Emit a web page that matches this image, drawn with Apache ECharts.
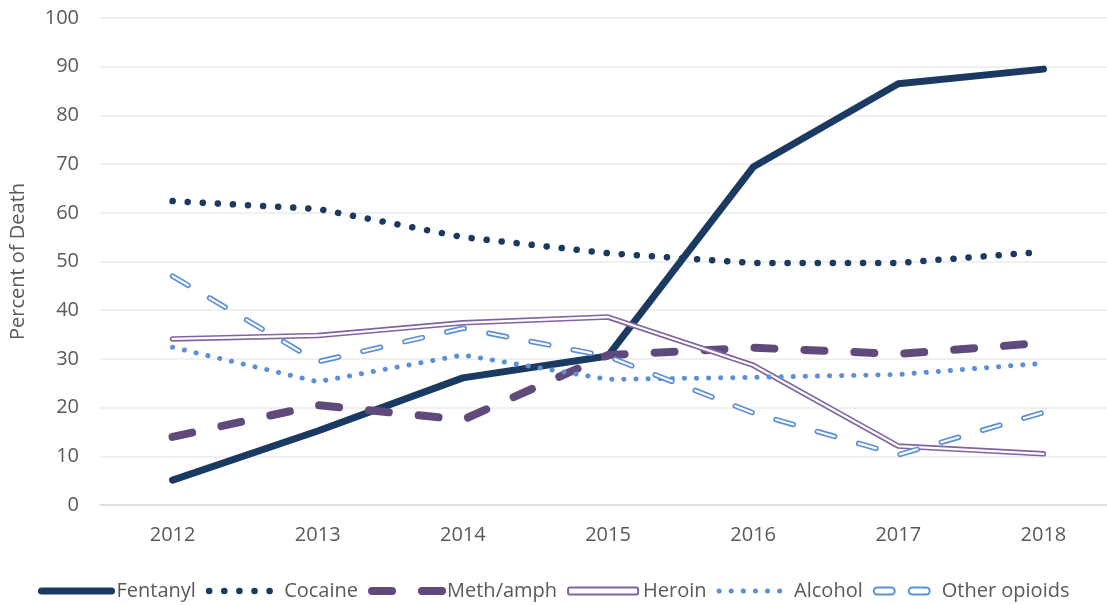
<!DOCTYPE html>
<html>
<head>
<meta charset="utf-8">
<script src="https://cdn.jsdelivr.net/npm/echarts@6/dist/echarts.min.js"></script>
<style>
  html, body { margin: 0; padding: 0; background: #fff; }
  #chart { width: 1107px; height: 605px; }
</style>
</head>
<body>
<div id="chart"></div>
<script>
// categories
var years = ['2012', '2013', '2014', '2015', '2016', '2017', '2018'];
// percent of death per substance
var fentanyl = [5.1, 15.2, 26.1, 30.6, 69.4, 86.5, 89.5];
var cocaine = [62.4, 60.8, 55.0, 51.7, 49.7, 49.7, 52.0];
var methAmph = [14.0, 20.5, 17.5, 30.8, 32.3, 31.0, 33.3];
var heroin = [34.1, 34.8, 37.4, 38.6, 28.7, 12.1, 10.5];
var alcohol = [32.4, 25.3, 30.8, 25.8, 26.2, 26.8, 29.1];
var otherOpioids = [47.0, 29.4, 36.3, 30.5, 18.9, 10.3, 19.0];

var textColor = '#595959';
var font = 'Open Sans';

var myChart = echarts.init(document.getElementById('chart'));

// plain line series helper
function lineSeries(name, data, style) {
    return {
        name: name,
        type: 'line',
        data: data,
        symbol: 'none',
        showSymbol: false,
        silent: true,
        itemStyle: { color: style.color },
        lineStyle: style,
        emphasis: { disabled: true }
    };
}

var option = {
    animation: false,
    backgroundColor: '#fff',
    grid: {
        left: 100,
        top: 18,
        width: 1016,
        height: 487,
        outerBoundsMode: 'none'
    },
    legend: {
        data: [
            { name: 'Fentanyl' },
            { name: 'Cocaine' },
            { name: 'Meth/amph' },
            {
                name: 'Heroin',
                icon: 'roundRect',
                itemStyle: { color: '#fff', borderColor: '#8064a2', borderWidth: 2, opacity: 1 }
            },
            { name: 'Alcohol' },
            {
                name: 'Other opioids',
                icon: 'path://M4,0L20,0A4,4 0 0 1 20,8L4,8A4,4 0 0 1 4,0Z M44,0L60,0A4,4 0 0 1 60,8L44,8A4,4 0 0 1 44,0Z',
                itemStyle: { color: '#fff', borderColor: '#5b8fd6', borderWidth: 2, opacity: 1 }
            }
        ],
        left: 33,
        top: 576,
        itemWidth: 70,
        itemHeight: 7,
        itemGap: 10,
        selectedMode: false,
        itemStyle: { opacity: 0 },
        lineStyle: { width: 'inherit' },
        textStyle: { color: textColor, fontSize: 20, fontFamily: font }
    },
    xAxis: {
        type: 'category',
        data: years,
        axisLine: { lineStyle: { color: '#d9d9d9', width: 1.5 } },
        axisTick: { show: false },
        axisLabel: { color: textColor, fontSize: 20, fontFamily: font, margin: 20 }
    },
    yAxis: {
        type: 'value',
        min: 0,
        max: 100,
        interval: 10,
        name: 'Percent of Death',
        nameLocation: 'middle',
        nameGap: 72,
        nameTextStyle: { color: textColor, fontSize: 20, fontFamily: font },
        axisLine: { show: false },
        axisTick: { show: false },
        axisLabel: { color: textColor, fontSize: 20, fontFamily: font, margin: 21 },
        splitLine: { lineStyle: { color: '#ebebeb', width: 1.5 } }
    },
    series: [
        lineSeries('Fentanyl', fentanyl, { color: '#1b3a62', width: 7, cap: 'round', join: 'round' }),
        lineSeries('Cocaine', cocaine, { color: '#1b3a62', width: 6.5, type: [0.1, 15], cap: 'round' }),
        lineSeries('Meth/amph', methAmph, { color: '#604a7b', width: 8, type: [20, 30], cap: 'round' }),
        lineSeries('Heroin', heroin, { color: '#8064a2', width: 5.5, cap: 'round', join: 'round' }),
        lineSeries('Heroin inner', heroin, { color: '#ffffff', width: 2.3, cap: 'round', join: 'round' }),
        lineSeries('Alcohol', alcohol, { color: '#5b8fd6', width: 5, type: [0.1, 12], cap: 'round' }),
        lineSeries('Other opioids', otherOpioids, { color: '#5b8fd6', width: 5.5, type: [18, 25], cap: 'round' }),
        lineSeries('Other opioids inner', otherOpioids, { color: '#ffffff', width: 2.2, type: [18, 25], cap: 'round' })
    ]
};

myChart.setOption(option, true);
</script>
</body>
</html>
